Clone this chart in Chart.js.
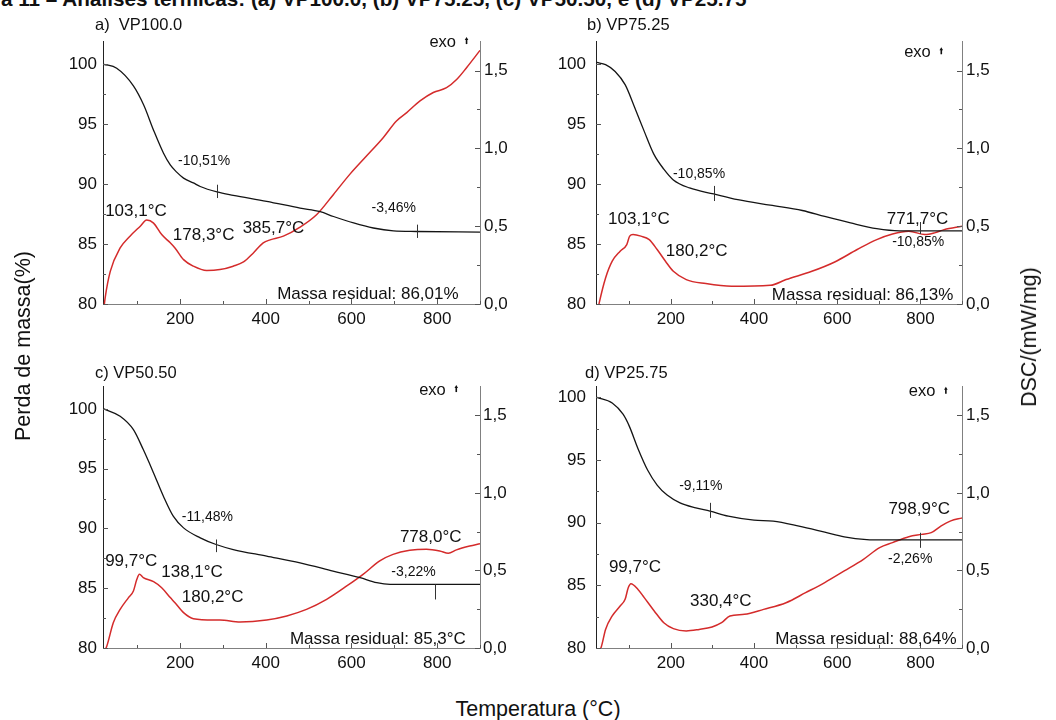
<!DOCTYPE html>
<html><head><meta charset="utf-8">
<script src="https://cdn.jsdelivr.net/npm/chart.js@4.4.1/dist/chart.umd.min.js"></script>
<style>
html,body{margin:0;padding:0;background:#fff;}
body{width:1056px;height:720px;position:relative;overflow:hidden;font-family:"Liberation Sans",Arial,sans-serif;color:#111;}
canvas{position:absolute;}
.t{position:absolute;white-space:nowrap;color:#111;}
.rot{transform:translate(-50%,-50%) rotate(-90deg);}
.ctr{transform:translate(-50%,-50%);}
</style></head><body>
<div class="t" id="figTitle" style="left:1px;top:-13px;font:bold 20.7px 'Liberation Sans',Arial,sans-serif;line-height:24px;">a 11 – Análises térmicas: (a) VP100.0, (b) VP75.25, (c) VP50.50, e (d) VP25.75</div>
<canvas id="cA" width="528" height="345" style="left:0;top:0"></canvas>
<canvas id="cB" width="528" height="345" style="left:528px;top:0"></canvas>
<canvas id="cC" width="528" height="345" style="left:0;top:345px"></canvas>
<canvas id="cD" width="528" height="345" style="left:528px;top:345px"></canvas>
<div class="t rot" style="left:22.5px;top:346px;font-size:21.5px;line-height:26px;">Perda de massa(%)</div>
<div class="t rot" style="left:1029px;top:337px;font-size:21.5px;line-height:26px;">DSC/(mW/mg)</div>
<div class="t ctr" style="left:538px;top:708.5px;font-size:21.5px;line-height:26px;">Temperatura (°C)</div>
<script>
// ================= DATA =================
const xTicks = [200, 400, 600, 800];
const massTicks = [80, 85, 90, 95, 100];
const dscTicks = [0, 0.5, 1.0, 1.5];

// (a) VP100.0
const tgaTempA = [22, 52, 91, 115, 138, 161, 177, 192, 208, 231, 247, 286, 324, 402, 480, 527, 558, 605, 651, 698, 752, 900];
const tgaMassA = [100.0, 99.67, 98.2, 96.6, 94.5, 92.6, 91.6, 91.0, 90.5, 90.1, 89.8, 89.35, 89.07, 88.57, 88.0, 87.7, 87.3, 86.76, 86.34, 86.1, 86.05, 86.0];
const dscTempA = [22, 25, 37, 60, 83, 107, 122, 138, 157, 177, 188, 208, 231, 262, 293, 324, 348, 371, 394, 410, 441, 480, 519, 558, 596, 635, 674, 705, 729, 760, 791, 822, 846, 869, 900];
const dscValA = [-0.03, 0.04, 0.21, 0.36, 0.436, 0.50, 0.539, 0.52, 0.446, 0.393, 0.36, 0.285, 0.243, 0.215, 0.221, 0.243, 0.27, 0.328, 0.393, 0.412, 0.436, 0.494, 0.575, 0.704, 0.833, 0.951, 1.069, 1.176, 1.23, 1.305, 1.359, 1.39, 1.444, 1.52, 1.63];

// (b) VP75.25
const tgaTempB = [22, 43, 66, 90, 113, 136, 159, 183, 206, 245, 303, 361, 439, 516, 570, 632, 695, 749, 900];
const tgaMassB = [100.15, 99.97, 99.4, 98.3, 96.4, 94.4, 92.5, 91.25, 90.35, 89.68, 89.18, 88.7, 88.24, 87.8, 87.3, 86.76, 86.28, 86.1, 86.1];
const dscTempB = [25, 28, 43, 59, 78, 94, 101, 109, 128, 148, 167, 187, 206, 237, 284, 346, 439, 477, 539, 594, 648, 695, 733, 772, 811, 834, 857, 900];
const dscValB = [-0.03, 0.01, 0.167, 0.275, 0.339, 0.382, 0.436, 0.446, 0.436, 0.414, 0.35, 0.275, 0.21, 0.157, 0.131, 0.114, 0.12, 0.157, 0.21, 0.27, 0.35, 0.414, 0.45, 0.468, 0.446, 0.457, 0.478, 0.50];

// (c) VP50.50
const tgaTempC = [22, 60, 91, 114, 138, 161, 184, 208, 247, 284, 324, 402, 480, 557, 620, 659, 690, 900];
const tgaMassC = [100.0, 99.39, 98.27, 96.6, 94.65, 92.7, 91.03, 90.05, 89.22, 88.66, 88.24, 87.69, 87.13, 86.44, 85.88, 85.46, 85.32, 85.32];
const dscTempC = [22, 29, 44, 60, 79.5, 91, 99, 105, 114, 138, 157, 177, 188, 208, 231, 278, 293, 340, 402, 449, 495, 542, 589, 627, 666, 697, 736, 775, 806, 826, 845, 876, 900];
const dscValC = [-0.03, 0.013, 0.163, 0.249, 0.325, 0.368, 0.443, 0.475, 0.454, 0.428, 0.389, 0.325, 0.292, 0.228, 0.189, 0.181, 0.181, 0.168, 0.181, 0.207, 0.249, 0.314, 0.40, 0.475, 0.562, 0.604, 0.63, 0.637, 0.626, 0.611, 0.633, 0.658, 0.673];

// (d) VP25.75
const tgaTempD = [22, 59, 85, 100, 121, 144, 167, 191, 222, 260, 294, 338, 400, 446, 508, 570, 617, 671, 710, 900];
const tgaMassD = [100.0, 99.55, 98.65, 97.7, 95.9, 94.2, 93.0, 92.2, 91.58, 91.18, 90.92, 90.52, 90.2, 90.12, 89.72, 89.24, 88.87, 88.65, 88.62, 88.62];
const dscTempD = [24, 32, 43, 59, 78, 90, 97.5, 104, 121, 136, 160, 183, 206, 237, 268, 299, 322, 342, 377, 423, 477, 524, 570, 617, 663, 702, 733, 772, 803, 826, 850, 873, 900];
const dscValD = [-0.02, 0.002, 0.12, 0.207, 0.271, 0.314, 0.389, 0.415, 0.378, 0.325, 0.239, 0.163, 0.125, 0.11, 0.12, 0.136, 0.163, 0.207, 0.217, 0.249, 0.292, 0.357, 0.422, 0.497, 0.572, 0.648, 0.68, 0.718, 0.733, 0.744, 0.788, 0.82, 0.839];

// annotations: [text, temperature, mass]
const tempNotesA = [['103,1°C', 25, 87.73], ['178,3°C', 183, 85.73], ['385,7°C', 346, 86.34]];
const pctNotesA = [['-10,51%', 195, 91.93], ['-3,46%', 647, 88.01]];
const residualA = ['Massa residual: 86,01%', 850, 80.78];
const marksA = [[285, 89.95, 88.84], [752, 86.62, 85.51]];
const exoA = [782, 101.85];

const tempNotesB = [['103,1°C', 49, 87.09], ['180,2°C', 188, 84.41], ['771,7°C', 719, 87.09]];
const pctNotesB = [['-10,85%', 205, 90.82], ['-10,85%', 732, 85.17]];
const residualB = ['Massa residual: 86,13%', 879, 80.75];
const marksB = [[303, 89.85, 88.59], [800, 86.84, 85.84]];
const exoB = [761, 101.0];

const tempNotesC = [['99,7°C', 25, 87.27], ['138,1°C', 156, 86.35], ['180,2°C', 204, 84.26], ['778,0°C', 713, 89.3]];
const pctNotesC = [['-11,48%', 204, 90.95], ['-3,22%', 693, 86.38]];
const residualC = ['Massa residual: 85,3°C', 867, 80.72];
const marksC = [[284, 89.08, 88.02], [795, 85.32, 84.06]];
const exoC = [758, 101.58];

const tempNotesD = [['99,7°C', 51, 86.4], ['330,4°C', 246, 83.75], ['798,9°C', 723, 91.04]];
const pctNotesD = [['-9,11%', 220, 92.91], ['-2,26%', 722, 87.06]];
const residualD = ['Massa residual: 88,64%', 887, 80.69];
const marksD = [[294, 91.58, 90.38], [798, 89.19, 87.99]];
const exoD = [772, 100.45];

const panelTitles = ['a)  VP100.0', 'b) VP75.25', 'c) VP50.50', 'd) VP25.75'];

// ================= RENDERING =================
const FONT = '"Liberation Sans", Arial, sans-serif';
Chart.defaults.font.family = FONT;
Chart.defaults.color = '#111';

function pairs(xs, ys) { return xs.map((x, i) => ({ x: x, y: ys[i] })); }
function fmtDsc(v) { return v.toFixed(1).replace('.', ','); }

function makePanel(id, cfg, L) {
  const W = 528, H = 345;
  const plugin = {
    id: 'thermo_' + id,
    afterDraw(chart) {
      const ctx = chart.ctx, a = chart.chartArea;
      const sx = chart.scales.x, sy = chart.scales.y, s2 = chart.scales.y2;
      ctx.save();
      // inward tick marks
      ctx.strokeStyle = '#555'; ctx.lineWidth = 1;
      ctx.beginPath();
      for (let v = 100; v <= 900; v += 100) {
        const p = Math.round(sx.getPixelForValue(v)) + 0.5;
        const len = (v % 200 === 0) ? 5 : 3;
        ctx.moveTo(p, a.bottom); ctx.lineTo(p, a.bottom - len);
      }
      for (let v = 80; v <= sy.max + 1e-6; v += 2.5) {
        const p = Math.round(sy.getPixelForValue(v)) + 0.5;
        const len = (v % 5 === 0) ? 5 : 3;
        ctx.moveTo(a.left, p); ctx.lineTo(a.left + len, p);
      }
      for (let v = 0; v <= s2.max + 1e-6; v += 0.25) {
        const p = Math.round(s2.getPixelForValue(v)) + 0.5;
        const len = (Math.abs(v * 2 - Math.round(v * 2)) < 1e-6) ? 5 : 3;
        ctx.moveTo(a.right, p); ctx.lineTo(a.right - len, p);
      }
      ctx.stroke();
      // step markers on TGA curve
      ctx.strokeStyle = '#333'; ctx.lineWidth = 1;
      ctx.beginPath();
      cfg.marks.forEach(m => {
        const px = Math.round(sx.getPixelForValue(m[0])) + 0.5;
        ctx.moveTo(px, sy.getPixelForValue(m[1])); ctx.lineTo(px, sy.getPixelForValue(m[2]));
      });
      ctx.stroke();
      ctx.fillStyle = '#111';
      ctx.textBaseline = 'middle';
      ctx.textAlign = 'left';
      ctx.font = '17px ' + FONT;
      cfg.temps.forEach(n => ctx.fillText(n[0], sx.getPixelForValue(n[1]), sy.getPixelForValue(n[2])));
      ctx.font = '14px ' + FONT;
      cfg.pcts.forEach(n => ctx.fillText(n[0], sx.getPixelForValue(n[1]), sy.getPixelForValue(n[2])));
      ctx.font = '17px ' + FONT;
      ctx.textAlign = 'right';
      ctx.fillText(cfg.residual[0], sx.getPixelForValue(cfg.residual[1]), sy.getPixelForValue(cfg.residual[2]));
      // exo arrow
      ctx.textAlign = 'left';
      ctx.font = '16.5px ' + FONT;
      const ex = sx.getPixelForValue(cfg.exo[0]), ey = sy.getPixelForValue(cfg.exo[1]);
      ctx.fillText('exo', ex, ey);
      const ax = ex + ctx.measureText('exo').width + 10.5;
      ctx.strokeStyle = '#111'; ctx.lineWidth = 1.6;
      ctx.beginPath(); ctx.moveTo(ax, ey + 2); ctx.lineTo(ax, ey - 3); ctx.stroke();
      ctx.beginPath(); ctx.moveTo(ax - 1.8, ey - 2); ctx.lineTo(ax, ey - 5); ctx.lineTo(ax + 1.8, ey - 2); ctx.closePath(); ctx.fill();
      // panel title
      ctx.font = '16.5px ' + FONT;
      ctx.textBaseline = 'alphabetic';
      ctx.fillText(cfg.title, a.left + L.titleDx, a.top + L.titleDy);
      ctx.restore();
    }
  };
  const tickFont = { size: 17, family: FONT };
  return new Chart(document.getElementById(id), {
    type: 'line',
    data: {
      datasets: [
        { data: pairs(cfg.tgaT, cfg.tgaM), yAxisID: 'y', borderColor: '#141414', borderWidth: 1.3,
          pointRadius: 0, cubicInterpolationMode: 'monotone', fill: false },
        { data: pairs(cfg.dscT, cfg.dscV), yAxisID: 'y2', borderColor: '#d42b2b', borderWidth: 1.5,
          pointRadius: 0, cubicInterpolationMode: 'monotone', fill: false }
      ]
    },
    options: {
      responsive: false, animation: false, devicePixelRatio: 1,
      events: [],
      layout: { padding: { top: L.t, left: 0, right: 0, bottom: 0 } },
      plugins: { legend: { display: false }, tooltip: { enabled: false } },
      scales: {
        x: {
          type: 'linear', position: 'bottom', min: 20, max: 900,
          grid: { display: false, drawTicks: false },
          border: { display: true, color: '#808080', width: 1 },
          ticks: { font: tickFont, color: '#111', padding: 5.5, maxRotation: 0, autoSkip: false,
                   callback: v => String(v) },
          afterBuildTicks: s => { s.ticks = xTicks.map(v => ({ value: v })); },
          afterFit: s => { s.height = H - L.b; }
        },
        y: {
          type: 'linear', position: 'left', min: 80, max: cfg.massMax,
          grid: { display: false, drawTicks: false },
          border: { display: true, color: '#222', width: 1 },
          ticks: { font: tickFont, color: '#111', padding: L.padL, callback: v => String(v) },
          afterBuildTicks: s => { s.ticks = massTicks.map(v => ({ value: v })); },
          afterFit: s => { s.width = L.l; }
        },
        y2: {
          type: 'linear', position: 'right', min: 0, max: 1.69,
          grid: { display: false, drawTicks: false },
          border: { display: true, color: '#808080', width: 1 },
          ticks: { font: tickFont, color: '#111', padding: L.padR, callback: v => fmtDsc(v) },
          afterBuildTicks: s => { s.ticks = dscTicks.map(v => ({ value: v })); },
          afterFit: s => { s.width = W - L.r; }
        }
      }
    },
    plugins: [plugin]
  });
}

makePanel('cA', { tgaT: tgaTempA, tgaM: tgaMassA, dscT: dscTempA, dscV: dscValA, massMax: 101.94,
  temps: tempNotesA, pcts: pctNotesA, residual: residualA, marks: marksA, exo: exoA, title: panelTitles[0] },
  { l: 103, r: 480, t: 41, b: 304, padL: 6, padR: 4, titleDx: -8, titleDy: -11 });
makePanel('cB', { tgaT: tgaTempB, tgaM: tgaMassB, dscT: dscTempB, dscV: dscValB, massMax: 101.94,
  temps: tempNotesB, pcts: pctNotesB, residual: residualB, marks: marksB, exo: exoB, title: panelTitles[1] },
  { l: 68, r: 434, t: 41, b: 304, padL: 10, padR: 4, titleDx: -9, titleDy: -11 });
makePanel('cC', { tgaT: tgaTempC, tgaM: tgaMassC, dscT: dscTempC, dscV: dscValC, massMax: 101.92,
  temps: tempNotesC, pcts: pctNotesC, residual: residualC, marks: marksC, exo: exoC, title: panelTitles[2] },
  { l: 103, r: 480, t: 41, b: 303, padL: 6, padR: 3, titleDx: -8, titleDy: -8 });
makePanel('cD', { tgaT: tgaTempD, tgaM: tgaMassD, dscT: dscTempD, dscV: dscValD, massMax: 100.9,
  temps: tempNotesD, pcts: pctNotesD, residual: residualD, marks: marksD, exo: exoD, title: panelTitles[3] },
  { l: 68, r: 434, t: 41, b: 303, padL: 10, padR: 4, titleDx: -11, titleDy: -8 });
</script>
</body></html>
